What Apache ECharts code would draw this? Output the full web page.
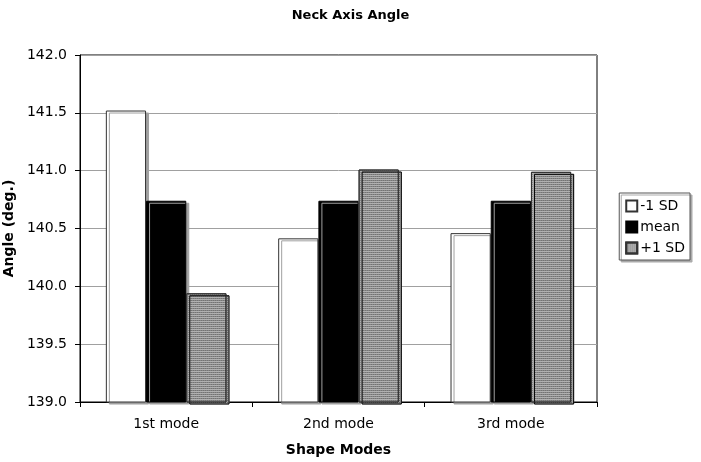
<!DOCTYPE html>
<html><head><meta charset="utf-8">
<script src="https://cdn.jsdelivr.net/npm/echarts@6/dist/echarts.min.js"></script>
<style>html,body{margin:0;padding:0;background:#fff}#c{width:701px;height:462px}</style>
</head><body><div id="c"></div>
<script>
const categories = ['1st mode', '2nd mode', '3rd mode'];
const seriesNames = ['-1 SD', 'mean', '+1 SD'];
const minusSD = [141.52, 140.415, 140.46];
const meanVals = [140.74, 140.74, 140.74];
const plusSD = [139.94, 141.01, 140.99];
const yTicks = [139.0, 139.5, 140.0, 140.5, 141.0, 141.5, 142.0];

const font = 'DejaVu Sans, Verdana, sans-serif';
const chart = echarts.init(document.getElementById('c'), null, {renderer: 'canvas'});
const shadow = {shadowColor: '#a0a0a0', shadowOffsetX: 3, shadowOffsetY: 2, shadowBlur: 0};
function mk(name, data, color, border, decal) {
  const s = {
    name, type: 'bar', data, barGap: '0%', barCategoryGap: '30%',
    itemStyle: Object.assign({color, borderColor: border, borderWidth: 1}, shadow),
    emphasis: {disabled: true}, animation: false
  };
  if (decal) s.itemStyle.decal = decal;
  return s;
}
chart.setOption({
  animation: false,
  title: {text: 'Neck Axis Angle', left: 'center', top: 4,
    textStyle: {fontFamily: font, fontSize: 13, fontWeight: 'bold', color: '#000'}},
  grid: {left: 80, right: 104, top: 55, bottom: 60, show: true, borderColor: '#000', borderWidth: 1,
    containLabel: false, outerBoundsMode: 'none'},
  legend: {
    orient: 'vertical', right: 11, top: 193, data: seriesNames,
    itemWidth: 11, itemHeight: 11, itemGap: 7,
    padding: [6, 5, 5, 6],
    borderColor: '#555', borderWidth: 1, backgroundColor: '#fff',
    shadowColor: '#aaa', shadowOffsetX: 2, shadowOffsetY: 2, shadowBlur: 0,
    textStyle: {fontFamily: font, fontSize: 14, color: '#000', padding: [0, 0, 0, -2]},
    icon: 'rect'
  },
  xAxis: {
    type: 'category', data: categories,
    name: 'Shape Modes', nameLocation: 'middle', nameGap: 41,
    nameTextStyle: {fontFamily: font, fontSize: 14, fontWeight: 'bold', color: '#000'},
    axisLine: {lineStyle: {color: '#000'}},
    axisTick: {show: true, length: 5, lineStyle: {color: '#000'}},
    axisLabel: {fontFamily: font, fontSize: 14, color: '#000', margin: 15},
    splitLine: {show: false}
  },
  yAxis: {
    type: 'value', min: yTicks[0], max: yTicks[yTicks.length - 1], interval: 0.5,
    name: 'Angle (deg.)', nameLocation: 'middle', nameGap: 58, nameRotate: 90,
    nameTextStyle: {fontFamily: font, fontSize: 14, fontWeight: 'bold', color: '#000'},
    axisLine: {show: true, lineStyle: {color: '#000'}},
    axisTick: {show: true, length: 5, lineStyle: {color: '#000'}},
    axisLabel: {fontFamily: font, fontSize: 14, color: '#000', margin: 13,
      formatter: v => v.toFixed(1)},
    splitLine: {show: true, lineStyle: {color: '#a0a0a0', width: 1}}
  },
  series: [
    mk(seriesNames[0], minusSD, '#ffffff', '#333'),
    mk(seriesNames[1], meanVals, '#000000', '#000'),
    mk(seriesNames[2], plusSD, '#b0b0b0', '#333',
      {symbol: 'rect', symbolSize: 1, dashArrayX: [1, 1], dashArrayY: [1, 1], color: 'rgba(60,60,60,0.35)'})
  ]
});
</script></body></html>
